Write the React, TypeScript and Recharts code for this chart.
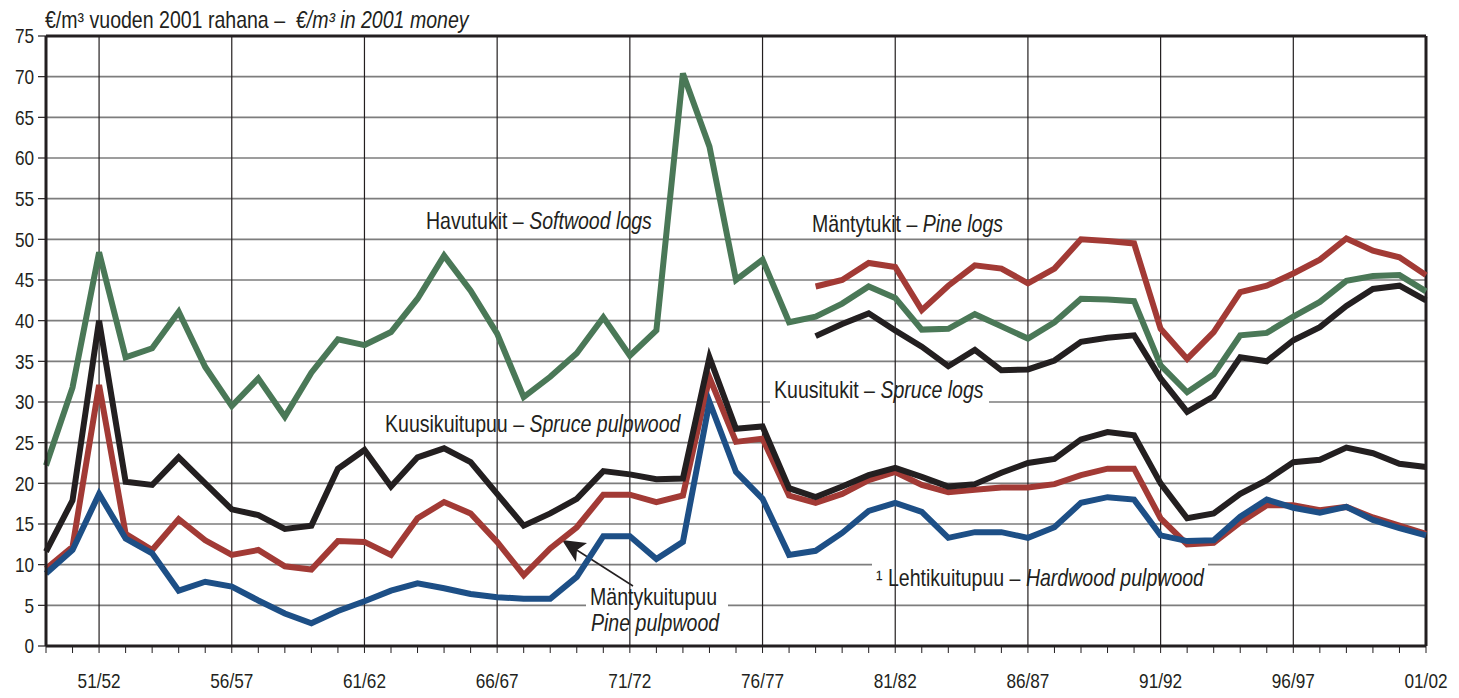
import { LineChart, Line, XAxis, YAxis, CartesianGrid, ReferenceLine, Customized } from 'recharts';

const SEASONS = [
  '49/50', '50/51', '51/52', '52/53', '53/54', '54/55', '55/56', '56/57', '57/58', '58/59',
  '59/60', '60/61', '61/62', '62/63', '63/64', '64/65', '65/66', '66/67', '67/68', '68/69',
  '69/70', '70/71', '71/72', '72/73', '73/74', '74/75', '75/76', '76/77', '77/78', '78/79',
  '79/80', '80/81', '81/82', '82/83', '83/84', '84/85', '85/86', '86/87', '87/88', '88/89',
  '89/90', '90/91', '91/92', '92/93', '93/94', '94/95', '95/96', '96/97', '97/98', '98/99',
  '99/00', '00/01', '01/02',
];

const LABELED_SEASONS = ['51/52', '56/57', '61/62', '66/67', '71/72', '76/77', '81/82', '86/87', '91/92', '96/97', '01/02'];
const Y_TICKS = [0, 5, 10, 15, 20, 25, 30, 35, 40, 45, 50, 55, 60, 65, 70, 75];

// Havutukit – softwood logs, 49/50 .. 01/02
const SOFTWOOD_LOGS = [
  22.2, 31.8, 48.4, 35.5, 36.6, 41.1, 34.3, 29.5, 32.9, 28.2,
  33.6, 37.7, 37.0, 38.6, 42.7, 48.0, 43.7, 38.4, 30.6, 33.1,
  36.0, 40.4, 35.7, 38.8, 70.4, 61.4, 45.0, 47.5, 39.8, 40.5,
  42.1, 44.2, 42.8, 38.9, 39.0, 40.8, 39.3, 37.8, 39.8, 42.7,
  42.6, 42.4, 34.5, 31.2, 33.4, 38.2, 38.5, 40.5, 42.3, 44.9,
  45.5, 45.6, 43.6,
];

// pine / spruce logs are split out only from 78/79 on
const LOGS_START = '78/79';
const PINE_LOGS = [
  44.2, 45.0, 47.1, 46.6, 41.3, 44.3, 46.8, 46.4, 44.6, 46.4,
  50.0, 49.8, 49.5, 39.0, 35.3, 38.6, 43.5, 44.3, 45.8, 47.5,
  50.1, 48.6, 47.8, 45.6,
];
const SPRUCE_LOGS = [
  38.1, 39.6, 40.9, 38.8, 36.8, 34.4, 36.4, 33.9, 34.0, 35.1,
  37.4, 37.9, 38.2, 32.9, 28.8, 30.7, 35.5, 35.0, 37.6, 39.2,
  41.8, 43.9, 44.3, 42.5,
];

const SPRUCE_PULPWOOD = [
  11.6, 17.9, 40.0, 20.2, 19.8, 23.2, 20.0, 16.8, 16.1, 14.4,
  14.8, 21.8, 24.1, 19.6, 23.2, 24.3, 22.6, 18.7, 14.8, 16.3,
  18.1, 21.5, 21.1, 20.5, 20.6, 35.5, 26.7, 27.0, 19.4, 18.3,
  19.6, 21.0, 21.9, 20.8, 19.6, 19.9, 21.3, 22.5, 23.0, 25.4,
  26.3, 25.9, 20.0, 15.7, 16.3, 18.7, 20.4, 22.6, 22.9, 24.4,
  23.7, 22.4, 22.0,
];
const PINE_PULPWOOD = [
  9.5, 12.2, 32.1, 13.8, 11.8, 15.6, 13.0, 11.2, 11.8, 9.8,
  9.4, 12.9, 12.8, 11.2, 15.7, 17.7, 16.3, 12.8, 8.7, 12.0,
  14.6, 18.6, 18.6, 17.7, 18.5, 33.0, 25.1, 25.5, 18.5, 17.6,
  18.7, 20.4, 21.4, 19.8, 18.9, 19.2, 19.5, 19.5, 19.9, 21.0,
  21.8, 21.8, 15.7, 12.5, 12.7, 15.2, 17.3, 17.3, 16.7, 17.1,
  15.8, 14.8, 13.8,
];
const HARDWOOD_PULPWOOD = [
  8.9, 11.8, 18.7, 13.2, 11.4, 6.8, 7.9, 7.3, 5.6, 4.0,
  2.8, 4.3, 5.5, 6.8, 7.7, 7.1, 6.4, 6.0, 5.8, 5.8,
  8.5, 13.5, 13.5, 10.7, 12.8, 30.0, 21.4, 18.1, 11.2, 11.7,
  13.9, 16.6, 17.6, 16.5, 13.3, 14.0, 14.0, 13.3, 14.6, 17.6,
  18.3, 18.0, 13.6, 12.9, 13.0, 15.9, 18.0, 17.0, 16.4, 17.1,
  15.5, 14.5, 13.6,
];

const logsOffset = SEASONS.indexOf(LOGS_START);
const rows = SEASONS.map((season, i) => ({
  season,
  softwoodLogs: SOFTWOOD_LOGS[i],
  pineLogs: i >= logsOffset ? PINE_LOGS[i - logsOffset] : null,
  spruceLogs: i >= logsOffset ? SPRUCE_LOGS[i - logsOffset] : null,
  sprucePulp: SPRUCE_PULPWOOD[i],
  pinePulp: PINE_PULPWOOD[i],
  hardwoodPulp: HARDWOOD_PULPWOOD[i],
}));

const FONT = '"Liberation Sans", Arial, Helvetica, sans-serif';
const INK = '#231f20';
const GREEN = '#4a7857';
const RED = '#a23a35';
const BLUE = '#1d4f86';
const SQUEEZE = 0.86;

function XTick(props: any) {
  const { x, payload } = props;
  if (!LABELED_SEASONS.includes(payload.value)) return null;
  return (
    <text
      transform={`translate(${x},688) scale(${SQUEEZE},1)`}
      textAnchor="middle"
      fontFamily={FONT}
      fontSize={20}
      fill={INK}
    >
      {payload.value}
    </text>
  );
}

function YTick(props: any) {
  const { x, y, payload } = props;
  return (
    <text
      transform={`translate(${x - 2},${y}) scale(${SQUEEZE},1)`}
      textAnchor="end"
      dy="0.36em"
      fontFamily={FONT}
      fontSize={20}
      fill={INK}
    >
      {payload.value}
    </text>
  );
}

// a condensed label: upright Finnish name, italic English name
function Label({ x, y, plain, italic, size = 23 }: { x: number; y: number; plain?: string; italic?: string; size?: number }) {
  return (
    <text transform={`translate(${x},${y}) scale(0.85,1)`} fontSize={size} style={{ whiteSpace: 'pre' }}>
      {plain}
      {italic && <tspan fontStyle="italic">{italic}</tspan>}
    </text>
  );
}

// series names and the arrow drawn on top of the grid
function Annotations() {
  return (
    <g fontFamily={FONT} fill={INK}>
      <rect x={420} y={200} width={238} height={37} fill="#fff" />
      <rect x={806} y={200} width={203} height={37} fill="#fff" />
      <rect x={770} y={369} width={219} height={35} fill="#fff" />
      <rect x={380} y={406} width={306} height={33} fill="#fff" />
      <rect x={586} y={584} width={142} height={56} fill="#fff" />
      <rect x={872} y={561} width={336} height={31} fill="#fff" />

      <Label x={45} y={28} size={23} plain={'€/m³ vuoden 2001 rahana –  '} italic="€/m³ in 2001 money" />
      <Label x={426} y={229} plain="Havutukit – " italic="Softwood logs" />
      <Label x={812} y={232} plain="Mäntytukit – " italic="Pine logs" />
      <Label x={774} y={398} plain="Kuusitukit – " italic="Spruce logs" />
      <Label x={385} y={432} plain="Kuusikuitupuu – " italic="Spruce pulpwood" />
      <Label x={590} y={605} plain="Mäntykuitupuu" />
      <Label x={591} y={631} italic="Pine pulpwood" />
      <Label x={876} y={586} plain="¹ Lehtikuitupuu – " italic="Hardwood pulpwood" />

      <line x1={633} y1={586} x2={572} y2={547} stroke={INK} strokeWidth={1.5} />
      <path d="M562,540 L587,543 L577,550 L576,562 Z" fill={INK} />
    </g>
  );
}

export default function App() {
  return (
    <div style={{ position: 'absolute', left: 0, top: 0, background: '#fff' }}>
      <LineChart width={1459} height={698} data={rows} margin={{ top: 36, right: 33, left: 6, bottom: 12 }}>
        <CartesianGrid vertical={false} stroke="#7d7d7d" strokeWidth={1.6} />
        {LABELED_SEASONS.slice(0, -1).map((s) => (
          <ReferenceLine key={s} x={s} stroke={INK} strokeWidth={1.2} />
        ))}
        <ReferenceLine y={75} stroke={INK} strokeWidth={3} />
        <ReferenceLine x="01/02" stroke={INK} strokeWidth={3} />
        <XAxis
          dataKey="season"
          interval={0}
          height={40}
          tickSize={7}
          tickLine={{ stroke: INK, strokeWidth: 1 }}
          axisLine={{ stroke: INK, strokeWidth: 3 }}
          tick={<XTick />}
        />
        <YAxis
          type="number"
          domain={[0, 75]}
          ticks={Y_TICKS}
          interval={0}
          width={40}
          tickSize={8}
          tickLine={{ stroke: INK, strokeWidth: 1.2 }}
          axisLine={{ stroke: INK, strokeWidth: 3 }}
          tick={<YTick />}
        />
        <Customized component={Annotations} />

        <Line type="linear" dataKey="softwoodLogs" stroke={GREEN} strokeWidth={6} dot={false} isAnimationActive={false} />
        <Line type="linear" dataKey="pineLogs" stroke={RED} strokeWidth={6} dot={false} isAnimationActive={false} />
        <Line type="linear" dataKey="spruceLogs" stroke={INK} strokeWidth={6} dot={false} isAnimationActive={false} />
        <Line type="linear" dataKey="pinePulp" stroke={RED} strokeWidth={6} dot={false} isAnimationActive={false} />
        <Line type="linear" dataKey="sprucePulp" stroke={INK} strokeWidth={6} dot={false} isAnimationActive={false} />
        <Line type="linear" dataKey="hardwoodPulp" stroke={BLUE} strokeWidth={6} dot={false} isAnimationActive={false} />
      </LineChart>
    </div>
  );
}
